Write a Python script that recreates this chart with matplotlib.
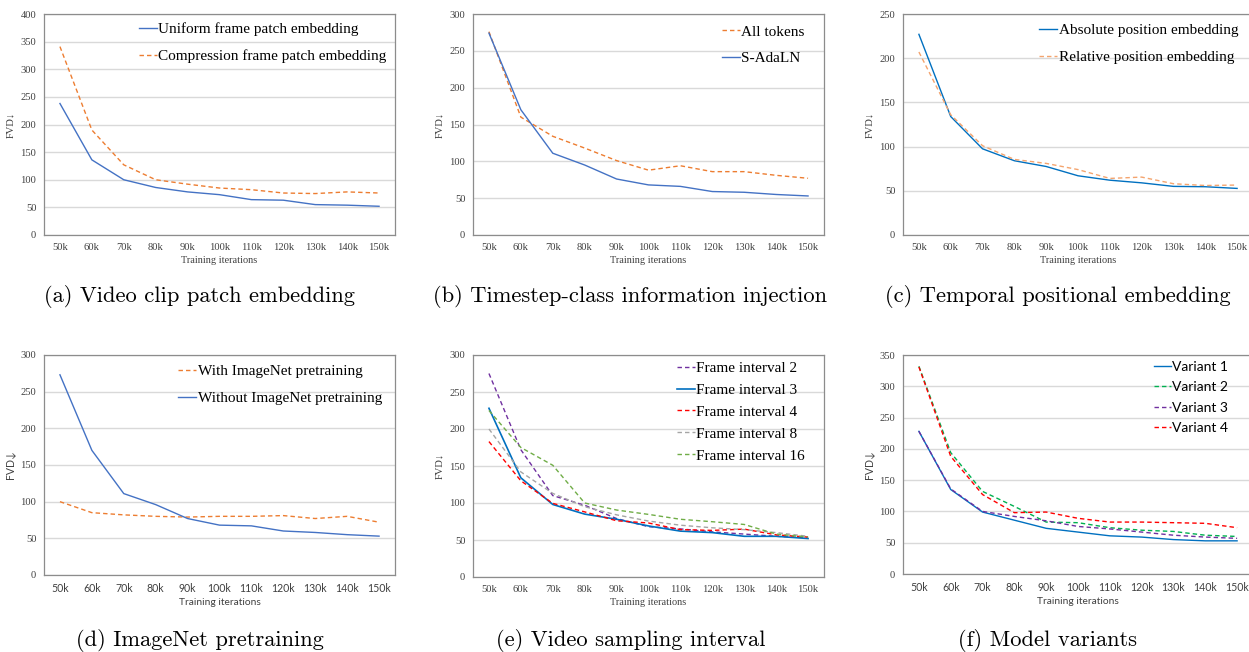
import matplotlib
matplotlib.use("Agg")
import matplotlib.pyplot as plt
import numpy as np

# ---------------- data ----------------
iterations = ["50k", "60k", "70k", "80k", "90k", "100k", "110k", "120k", "130k", "140k", "150k"]

# (a) Video clip patch embedding
a_uniform = [238, 136, 100, 86, 78, 73, 64, 63, 55, 54, 52]
a_compression = [341, 190, 127, 100, 92, 85, 82, 76, 75, 78, 76]

# (b) Timestep-class information injection
b_all_tokens = [276, 160, 134, 118, 101, 88, 94, 86, 86, 81, 77]
b_sadaln = [274, 170, 111, 95, 76, 68, 66, 59, 58, 55, 53]

# (c) Temporal positional embedding
c_absolute = [227, 134, 97.5, 84, 77.5, 67, 62, 59, 55, 54.6, 52.7]
c_relative = [207, 136, 101, 85.5, 81, 74, 64, 65.5, 58, 56, 56.5]

# (d) ImageNet pretraining
d_with = [100, 85, 82, 80, 79, 80, 80, 81, 77, 80, 72]
d_without = [273, 170, 111, 96, 77, 68, 67, 60, 58, 55, 53]

# (e) Video sampling interval
e_int2 = [275, 172, 110, 97, 79, 68, 65, 61, 58, 55, 53]
e_int3 = [228, 134, 98, 85, 78, 69, 62, 60, 55, 55, 52]
e_int4 = [183, 130, 99.5, 88, 76, 73, 64, 63, 64.7, 57, 54]
e_int8 = [200, 142, 113, 95, 84, 75.6, 70, 66.5, 64, 60, 55]
e_int16 = [225, 175, 151, 100, 90.5, 84.6, 78, 74.7, 71, 58, 54]

# (f) Model variants
f_var1 = [228, 135, 99, 86, 73, 67, 61, 59, 55, 53, 53]
f_var2 = [332, 194, 132, 108, 83, 82, 74, 70, 68, 62, 60]
f_var3 = [228, 136, 100, 92, 85, 76, 72, 67, 62, 59, 57]
f_var4 = [331, 188, 127, 98, 99, 89, 83, 83, 82, 81, 74]

captions = ["(a) Video clip patch embedding",
            "(b) Timestep-class information injection",
            "(c) Temporal positional embedding",
            "(d) ImageNet pretraining",
            "(e) Video sampling interval",
            "(f) Model variants"]

# ---------------- style ----------------
W, H = 1249, 652
fig = plt.figure(figsize=(W / 100, H / 100), dpi=100)

SERIF = ["Liberation Serif", "DejaVu Serif"]
SANS = ["Lato", "DejaVu Sans"]
BLUE_A = "#4472C4"
ORANGE = "#ED7D31"
BLUE_C = "#0070C0"
DASH = (0, (3.2, 2.2))
x = np.arange(len(iterations))


def make_ax(l, r, t, b):
    return fig.add_axes([l / W, 1 - b / H, (r - l) / W, (b - t) / H])


def style_ax(ax, ymax, xfont, yfont, labfont, tick_fs=7.6):
    ax.set_xlim(-0.5, len(iterations) - 0.5)
    ax.set_ylim(0, ymax)
    ax.set_yticks(np.arange(0, ymax + 1, 50))
    ax.set_xticks(x)
    ax.set_xticklabels(iterations, fontfamily=xfont, fontsize=tick_fs)
    ax.set_yticklabels([str(v) for v in np.arange(0, ymax + 1, 50)], fontfamily=yfont, fontsize=tick_fs)
    ax.tick_params(length=0, pad=5.5, colors="#404040")
    ax.grid(axis="y", color="#D9D9D9", lw=1.0)
    ax.set_axisbelow(True)
    for s in ax.spines.values():
        s.set_color("#8C8C8C")
        s.set_linewidth(0.9)
    ax.set_xlabel("Training iterations", fontfamily=labfont, fontsize=7.4, labelpad=3, color="#404040")
    ax.set_ylabel("FVD↓", fontfamily=labfont, fontsize=7.6, labelpad=4, color="#404040")


def legend(ax, xa, ya, font, fs, spacing):
    ax.legend(loc="upper left", bbox_to_anchor=(xa, ya), frameon=False, borderpad=0,
              borderaxespad=0, handlelength=1.2, handletextpad=0.08, labelspacing=spacing,
              prop={"family": font, "size": fs})


LW = 1.0

# (a)
ax = make_ax(44, 395, 14, 235)
ax.plot(x, a_uniform, color=BLUE_A, lw=LW, label="Uniform frame patch embedding")
ax.plot(x, a_compression, color=ORANGE, lw=LW, ls=DASH, label="Compression frame patch embedding")
style_ax(ax, 400, SERIF, SERIF, SERIF)
legend(ax, 0.27, 0.961, SERIF, 11, 0.86)

# (b)
ax = make_ax(473, 824, 14, 235)
ax.plot(x, b_all_tokens, color=ORANGE, lw=LW, ls=DASH, label="All tokens")
ax.plot(x, b_sadaln, color=BLUE_A, lw=LW, label="S-AdaLN")
style_ax(ax, 300, SERIF, SERIF, SERIF)
legend(ax, 0.709, 0.951, SERIF, 11, 0.83)

# (c)
ax = make_ax(903, 1253, 14, 235)
ax.plot(x, c_absolute, color=BLUE_C, lw=LW, label="Absolute position embedding")
ax.plot(x, c_relative, color="#F4A46E", lw=LW, ls=DASH, label="Relative position embedding")
style_ax(ax, 250, SERIF, SERIF, SERIF)
legend(ax, 0.389, 0.957, SERIF, 11, 0.86)

# (d)
ax = make_ax(44, 395, 355, 575)
ax.plot(x, d_with, color=ORANGE, lw=LW, ls=DASH, label="With ImageNet pretraining")
ax.plot(x, d_without, color=BLUE_A, lw=LW, label="Without ImageNet pretraining")
style_ax(ax, 300, SANS, SERIF, SANS)
legend(ax, 0.382, 0.956, SERIF, 11, 0.86)

# (e)
ax = make_ax(473, 824, 355, 577)
ax.plot(x, e_int2, color="#7030A0", lw=LW, ls=DASH, label="Frame interval 2")
ax.plot(x, e_int3, color=BLUE_C, lw=1.2, label="Frame interval 3")
ax.plot(x, e_int4, color="#FF0000", lw=LW, ls=DASH, label="Frame interval 4")
ax.plot(x, e_int8, color="#A5A5A5", lw=LW, ls=DASH, label="Frame interval 8")
ax.plot(x, e_int16, color="#70AD47", lw=LW, ls=DASH, label="Frame interval 16")
style_ax(ax, 300, SERIF, SERIF, SERIF)
legend(ax, 0.58, 0.972, SERIF, 11, 0.54)

# (f)
ax = make_ax(903, 1253, 355, 574)
ax.plot(x, f_var1, color=BLUE_C, lw=LW, label="Variant 1")
ax.plot(x, f_var2, color="#00B050", lw=LW, ls=DASH, label="Variant 2")
ax.plot(x, f_var3, color="#7030A0", lw=LW, ls=DASH, label="Variant 3")
ax.plot(x, f_var4, color="#FF0000", lw=LW, ls=DASH, label="Variant 4")
style_ax(ax, 350, SANS, SERIF, SANS)
legend(ax, 0.717, 0.973, SANS, 10, 0.6)

# captions
cap_pos = [(200, 297), (630, 297), (1058, 297), (200, 640), (631, 640), (1048, 640)]
for (cx, cy), c in zip(cap_pos, captions):
    fig.text(cx / W, 1 - cy / H, c, ha="center", va="center", fontsize=16.2,
             fontfamily=["cmr10", "DejaVu Serif"])

fig.savefig("out.png", dpi=100)
